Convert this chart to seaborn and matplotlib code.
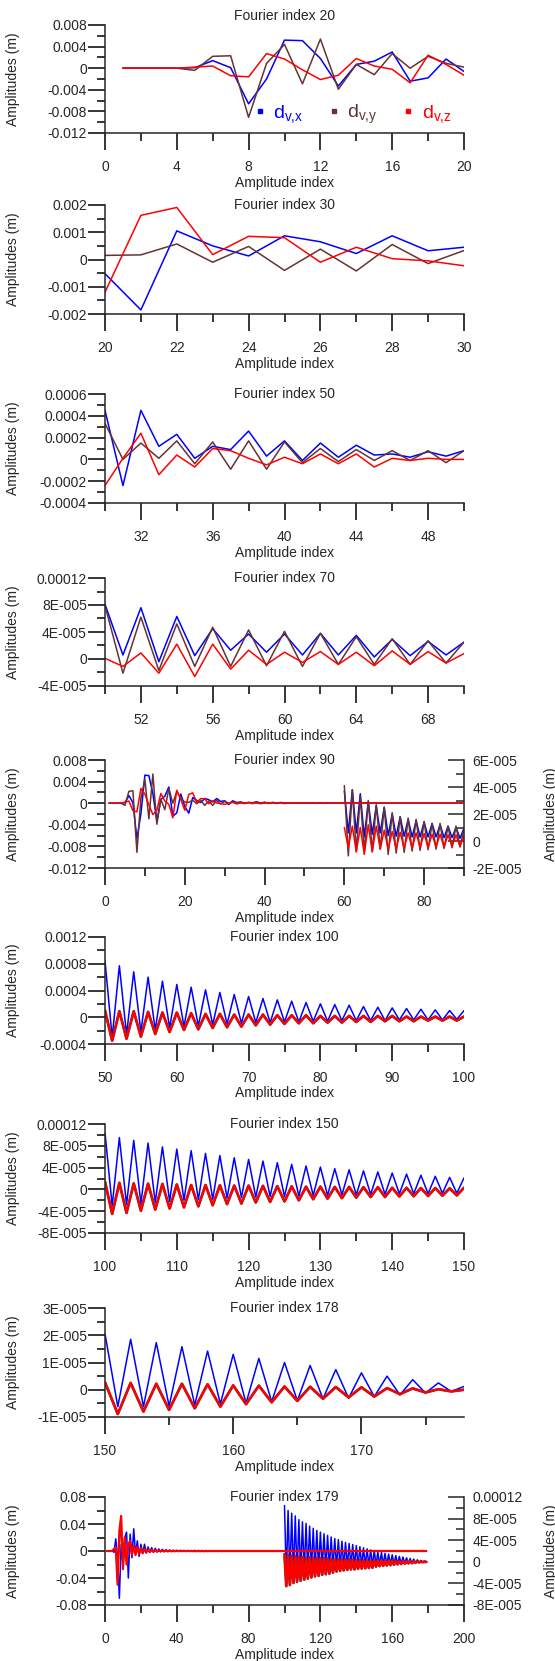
import numpy as np
import matplotlib
matplotlib.use("Agg")
import matplotlib.pyplot as plt
from matplotlib.ticker import MultipleLocator, FuncFormatter
from matplotlib.lines import Line2D
import seaborn as sns

# ---------------- data ----------------
# group A : panels "Fourier index 20 / 30 / 50 / 70 / 90"
p1_idx = np.arange(1, 21)
p1_dvx = [0, 0, 0, 0, 0.0001, 0.0014, 0.0001, -0.0066, -0.002, 0.0052, 0.0051, 0.0018,
          -0.0033, 0.0007, 0.0013, 0.003, -0.0024, -0.0018, 0.0017, -0.0006]
p1_dvy = [0, 0, 0, 0, -0.0004, 0.0022, 0.0023, -0.0091, 0.0009, 0.0044, -0.0029, 0.0054,
          -0.0039, 0.0007, -0.0012, 0.0027, 0.0, 0.0022, 0.0009, 0.0002]
p1_dvz = [0, 0, 0, 0, 0.0002, 0.0004, -0.0014, -0.0016, 0.0027, 0.0017, -0.0003, -0.0021,
          -0.0013, 0.0018, 0.0004, -0.0002, -0.0027, 0.0024, 0.0007, -0.0013]

p2_idx = np.arange(20, 31)
p2_dvx = [-0.00052, -0.00185, 0.00105, 0.0005, 0.00013, 0.00087, 0.00065, 0.00022, 0.00087, 0.00032, 0.00045]
p2_dvy = [0.00015, 0.00017, 0.00057, -0.0001, 0.00048, -0.0004, 0.00038, -0.00042, 0.00055, -0.00015, 0.00033]
p2_dvz = [-0.0012, 0.00162, 0.00191, 0.00018, 0.00085, 0.0008, -0.0001, 0.00045, 0.00003, -0.00005, -0.00023]

p3_idx = np.arange(30, 51)
p3_dvx = [0.00045, -0.00024, 0.00045, 0.00012, 0.00023, 0.00001, 0.00012, 0.00009, 0.00026, 0.00003, 0.00017,
          -0.00001, 0.00015, 0.00002, 0.00013, 0.00004, 0.00005, 0.00002, 0.00007, 0.00003, 0.00008]
p3_dvy = [0.00033, 0.0, 0.00015, 0.00001, 0.00017, -0.00004, 0.00016, -0.00009, 0.00017, -0.00009, 0.00016,
          -0.00003, 0.0001, -0.00002, 0.00009, -0.00001, 0.00008, -0.00001, 0.00008, -0.00003, 0.00008]
p3_dvz = [-0.00024, 0.00001, 0.00024, -0.00014, 0.00004, -0.00007, 0.0001, 0.00008, 0.00001, -0.00005, 0.00002,
          -0.00004, 0.00005, -0.00004, 0.00005, -0.00007, 0.00001, -0.00001, 0.00001, 0.0, 0.0]

# in units of 1e-5 m
p4_idx = np.arange(50, 71)
p4_dvx = [8.1, 0.6, 7.6, -0.4, 6.3, 0.5, 4.5, 1.3, 3.7, 1.0, 3.7, 0.6, 3.8, 0.6, 3.5, 0.3, 2.9, 0.5, 2.6, 0.6, 2.5]
p4_dvy = [7.9, -2.1, 6.2, -1.7, 5.2, -1.1, 4.7, -1.1, 4.3, -1.0, 4.1, -1.1, 3.8, -0.8, 3.3, -0.8, 3.0, -0.8, 2.7, -0.6, 2.5]
p4_dvz = [0.1, -1.1, 0.9, -2.1, 2.2, -2.6, 2.2, -1.5, 1.3, -0.8, 1.0, -0.5, 1.1, -0.8, 1.0, -1.0, 1.2, -0.8, 1.1, -0.6, 0.8]

# amplitude indices 71..90 (1e-5 m)
p5_tail_idx = np.arange(71, 91)
p5_tail_dvx = [0.4, 2.0, 0.35, 1.8, 0.35, 1.6, 0.3, 1.5, 0.3, 1.4, 0.3, 1.3, 0.3, 1.2, 0.25, 1.1, 0.25, 1.0, 0.2, 0.95]
p5_tail_dvy = [-1.0, 2.1, -0.9, 1.8, -0.85, 1.7, -0.75, 1.6, -0.7, 1.45, -0.65, 1.3, -0.6, 1.3, -0.55, 1.1, -0.5, 1.1, -0.45, 0.95]
p5_tail_dvz = [-0.6, 0.7, -0.6, 0.65, -0.55, 0.6, -0.55, 0.6, -0.5, 0.55, -0.5, 0.5, -0.45, 0.5, -0.45, 0.45, -0.4, 0.45, -0.4, 0.35]

# group B : panels "Fourier index 100 / 150 / 178 / 179"
p6_idx = np.arange(50, 101)
p6_dvx = [8.4, -3.0, 7.7, -2.6, 6.8, -2.2, 6.0, -1.9, 5.4, -1.6, 4.9, -1.4, 4.5, -1.3, 4.1, -1.1, 3.7,
          -1.0, 3.4, -0.9, 3.1, -0.8, 2.8, -0.8, 2.6, -0.7, 2.4, -0.7, 2.2, -0.6, 2.0, -0.6, 1.9, -0.5,
          1.8, -0.5, 1.6, -0.5, 1.5, -0.5, 1.4, -0.4, 1.3, -0.4, 1.2, -0.4, 1.1, -0.4, 1.0, -0.3, 1.0]  # 1e-4 m
p6_dvz = [1.0, -3.5, 0.9, -3.2, 0.9, -2.9, 0.8, -2.5, 0.7, -2.2, 0.7, -1.9, 0.6, -1.8, 0.5, -1.6, 0.5,
          -1.5, 0.4, -1.4, 0.4, -1.2, 0.4, -1.1, 0.3, -1.0, 0.3, -0.9, 0.3, -0.9, 0.2, -0.8, 0.2, -0.8,
          0.2, -0.7, 0.2, -0.7, 0.2, -0.6, 0.2, -0.6, 0.1, -0.6, 0.1, -0.5, 0.1, -0.5, 0.1, -0.5, 0.1]  # 1e-4 m

p7_idx = np.arange(100, 151)
p7_dvx = [10.4, -3.0, 9.5, -2.8, 9.0, -2.6, 8.5, -2.4, 7.8, -2.2, 7.4, -2.0, 7.1, -1.9, 6.6, -1.8, 6.2,
          -1.6, 5.8, -1.5, 5.5, -1.4, 5.2, -1.3, 4.9, -1.3, 4.6, -1.2, 4.3, -1.1, 4.1, -1.1, 3.8, -1.0,
          3.6, -1.0, 3.4, -0.9, 3.2, -0.9, 3.0, -0.8, 2.8, -0.8, 2.6, -0.8, 2.4, -0.7, 2.2, -0.7, 2.1]  # 1e-5 m
p7_dvz = [1.4, -4.5, 1.2, -4.3, 1.1, -3.9, 1.05, -3.7, 1.0, -3.5, 0.9, -3.3, 0.8, -3.1, 0.8, -2.9, 0.75,
          -2.7, 0.7, -2.6, 0.7, -2.4, 0.65, -2.3, 0.6, -2.2, 0.55, -2.0, 0.5, -1.8, 0.5, -1.7, 0.45, -1.6,
          0.45, -1.5, 0.4, -1.4, 0.4, -1.4, 0.3, -1.3, 0.3, -1.25, 0.25, -1.2, 0.25, -1.15, 0.2, -1.1, 0.3]  # 1e-5 m

p8_idx = np.arange(150, 179)
p8_dvx = [2.05, -0.62, 1.85, -0.62, 1.73, -0.6, 1.58, -0.56, 1.42, -0.52, 1.3, -0.49, 1.15, -0.44, 1.0,
          -0.4, 0.89, -0.33, 0.74, -0.31, 0.62, -0.25, 0.5, -0.19, 0.37, -0.12, 0.25, -0.06, 0.12]  # 1e-5 m
p8_dvz = [0.27, -0.89, 0.25, -0.8, 0.22, -0.74, 0.22, -0.68, 0.2, -0.62, 0.16, -0.53, 0.15, -0.46, 0.12,
          -0.41, 0.11, -0.33, 0.1, -0.28, 0.09, -0.25, 0.06, -0.16, 0.05, -0.1, 0.02, -0.06, 0.0]  # 1e-5 m
p9_last_dvx = [-0.02]  # index 179, 1e-5 m
p9_last_dvz = [-0.03]

# amplitude indices 1..49 of the "Fourier index 179" run (m)
p9_head_idx = np.arange(1, 50)
p9_head_dvx = [0, 0, 0, 0.0005, -0.002, 0.018, -0.008, -0.07, 0.01, -0.02, 0.02, 0.028, -0.04, 0.025,
               -0.01, 0.033, -0.005, 0.015, -0.008, 0.01, -0.004, 0.01, -0.003, 0.006, -0.002, 0.005,
               -0.002, 0.004, -0.0015, 0.003, -0.001, 0.0025, -0.001, 0.002, -0.0008, 0.0015, -0.0006,
               0.0012, -0.0005, 0.001, -0.0004, 0.0009, -0.0003, 0.0008, -0.0003, 0.0007, -0.0003, 0.0006, -0.0003]
p9_head_dvy = [0, 0, 0, 0, 0.002, 0.004, -0.03, 0.01, 0.04, -0.02, 0.012, -0.015, 0.008, 0.01, -0.006,
               0.006, -0.005, 0.005, -0.004, 0.003, -0.003, 0.002, -0.002, 0.0015, -0.0015, 0.001, -0.001,
               0.001, -0.0008, 0.0008, -0.0007, 0.0006, -0.0006, 0.0005, -0.0005, 0.0004, -0.0004, 0.0003,
               -0.0003, 0.0003, -0.0003, 0.0002, -0.0002, 0.0002, -0.0002, 0.0002, -0.0002, 0.0001, -0.0002]
p9_head_dvz = [0, 0, 0, 0, 0.003, 0.005, -0.05, 0.03, 0.052, -0.027, 0.02, -0.02, 0.01, 0.015, -0.005,
               0.008, -0.006, 0.006, -0.004, 0.004, -0.003, 0.003, -0.002, 0.002, -0.0015, 0.0015, -0.001,
               0.001, -0.0008, 0.0008, -0.0007, 0.0006, -0.0006, 0.0005, -0.0005, 0.0004, -0.0004, 0.0003,
               -0.0003, 0.0003, -0.0003, 0.0002, -0.0002, 0.0002, -0.0002, 0.0002, -0.0002, 0.0001, -0.0002]

titles = ["Fourier index 20", "Fourier index 30", "Fourier index 50", "Fourier index 70",
          "Fourier index 90", "Fourier index 100", "Fourier index 150", "Fourier index 178",
          "Fourier index 179"]
legend_labels = [r"$\mathregular{d_{v{,}x}}$", r"$\mathregular{d_{v{,}y}}$", r"$\mathregular{d_{v{,}z}}$"]

# ---------------- derived series ----------------
E5, E4 = 1e-5, 1e-4
p4_x, p4_y, p4_z = (np.array(a) * E5 for a in (p4_dvx, p4_dvy, p4_dvz))
tail_x, tail_y, tail_z = (np.array(a) * E5 for a in (p5_tail_dvx, p5_tail_dvy, p5_tail_dvz))

# "Fourier index 90": left axis = whole run 1..90, right axis = 60..90 zoomed
p5_idx = np.arange(1, 91)
p5_left = [np.concatenate([a1, a2[1:], a3[1:], a4[1:], a5]) for a1, a2, a3, a4, a5 in
           zip((p1_dvx, p1_dvy, p1_dvz), (p2_dvx, p2_dvy, p2_dvz), (p3_dvx, p3_dvy, p3_dvz),
               (p4_x, p4_y, p4_z), (tail_x, tail_y, tail_z))]
p5r_idx = np.arange(60, 91)
p5_right = [np.concatenate([a4[10:], a5]) for a4, a5 in zip((p4_x, p4_y, p4_z), (tail_x, tail_y, tail_z))]

p6_x, p6_z = np.array(p6_dvx) * E4, np.array(p6_dvz) * E4
p7_x, p7_z = np.array(p7_dvx) * E5, np.array(p7_dvz) * E5
p8_x, p8_z = np.array(p8_dvx) * E5, np.array(p8_dvz) * E5

p9r_idx = np.arange(100, 180)
p9r_x = np.concatenate([p7_x, p8_x[1:], np.array(p9_last_dvx) * E5])
p9r_z = np.concatenate([p7_z, p8_z[1:], np.array(p9_last_dvz) * E5])
p9_idx = np.arange(1, 180)
p9_x = np.concatenate([p9_head_dvx, p6_x, p9r_x[1:]])
p9_y = np.concatenate([p9_head_dvy, p6_z, p9r_z[1:]])
p9_z = np.concatenate([p9_head_dvz, p6_z, p9r_z[1:]])

# ---------------- style ----------------
sns.set_style("ticks")
plt.rcParams['font.family'] = ['Liberation Sans', 'DejaVu Sans']
plt.rcParams['axes.linewidth'] = 1.1
FS = 10
BLUE, BROWN, RED = "#0000ff", "#663333", "#ff0000"
W, H = 555, 1661
AX_L, AX_W = 105, 359


def fmt(v, pos):
    if abs(v) < 1e-12:
        return "0"
    if abs(v) < 1e-4:
        m, e = f"{v:.0E}".split("E")
        return f"{m}E{e[0]}{int(e[1:]):03d}"
    return f"{v:g}"


def make_ax(fig, top, bottom):
    return fig.add_axes([AX_L / W, 1 - bottom / H, AX_W / W, (bottom - top) / H])


def style(ax, xlim, ylim, xmaj, xmin, ymaj, ymin):
    ax.set_xlim(xlim)
    ax.set_ylim(ylim)
    ax.xaxis.set_major_locator(MultipleLocator(xmaj))
    ax.xaxis.set_minor_locator(MultipleLocator(xmin))
    ax.yaxis.set_major_locator(MultipleLocator(ymaj))
    ax.yaxis.set_minor_locator(MultipleLocator(ymin))
    ax.yaxis.set_major_formatter(FuncFormatter(fmt))
    ax.xaxis.set_major_formatter(FuncFormatter(lambda v, p: f"{v:g}"))
    for s in ("top", "right"):
        ax.spines[s].set_visible(False)
    ax.tick_params(which="major", length=12, width=1.1, labelsize=FS, color="black")
    ax.tick_params(which="minor", length=6, width=1.1, color="black")
    ax.tick_params(axis="x", which="major", pad=7.3)
    ax.tick_params(axis="y", which="major", pad=1)
    ax.set_xlabel("Amplitude index", fontsize=FS)
    ax.xaxis.set_label_coords(0.5, -0.395)
    ax.xaxis.label.set_va("top")
    ax.set_ylabel("Amplitudes (m)", fontsize=FS)
    ax.yaxis.set_label_coords(-0.237, 0.5)


def right_axis(ax, ylim, ymaj, ymin):
    ax2 = ax.twinx()
    ax2.set_ylim(ylim)
    ax2.yaxis.set_major_locator(MultipleLocator(ymaj))
    ax2.yaxis.set_minor_locator(MultipleLocator(ymin))
    ax2.yaxis.set_major_formatter(FuncFormatter(fmt))
    for s in ("top", "left", "bottom"):
        ax2.spines[s].set_visible(False)
    ax2.tick_params(which="major", direction="in", length=11.5, width=1.1, labelsize=FS, pad=6)
    ax2.tick_params(which="minor", direction="in", length=6, width=1.1)
    ax2.set_ylabel("Amplitudes (m)", fontsize=FS)
    ax2.yaxis.set_label_coords(1.222, 0.5)
    # left axis curves are drawn above the zoomed ones
    ax.set_zorder(ax2.get_zorder() + 1)
    ax.patch.set_visible(False)
    return ax2


def lines(ax, x, ys, lws=(1.1, 1.1, 1.1)):
    for y, c, lw in zip(ys, (BLUE, BROWN, RED), lws):
        sns.lineplot(x=x, y=y, ax=ax, color=c, lw=lw, estimator=None, sort=False)


fig = plt.figure(figsize=(W / 100, H / 100), dpi=100)

rects = [(25, 133), (205, 314), (394, 503), (578, 686), (760, 868),
         (937, 1044), (1124, 1233), (1308, 1417), (1497, 1605)]
axes = [make_ax(fig, t, b) for t, b in rects]

# Fourier index 20
ax = axes[0]
lines(ax, p1_idx, (p1_dvx, p1_dvy, p1_dvz))
style(ax, (0, 20), (-0.012, 0.008), 4, 2, 0.004, 0.002)
handles = [Line2D([], [], color=c, marker="s", ms=3, ls="") for c in (BLUE, BROWN, RED)]
ax.legend(handles, legend_labels, loc="center left", bbox_to_anchor=(0.42, 0.17), ncol=3,
          frameon=False, fontsize=14, handlelength=0.4, handletextpad=0.5, columnspacing=1.35,
          borderpad=0, borderaxespad=0, labelcolor="markerfacecolor")

# Fourier index 30
ax = axes[1]
lines(ax, p2_idx, (p2_dvx, p2_dvy, p2_dvz))
style(ax, (20, 30), (-0.002, 0.002), 2, 1, 0.001, 0.0005)

# Fourier index 50
ax = axes[2]
lines(ax, p3_idx, (p3_dvx, p3_dvy, p3_dvz))
style(ax, (30, 50), (-0.0004, 0.0006), 4, 2, 0.0002, 0.0001)

# Fourier index 70
ax = axes[3]
lines(ax, p4_idx, (p4_x, p4_y, p4_z))
style(ax, (50, 70), (-4e-5, 12e-5), 4, 2, 4e-5, 2e-5)

# Fourier index 90
ax = axes[4]
ax2 = right_axis(ax, (-2e-5, 6e-5), 2e-5, 1e-5)
lines(ax2, p5r_idx, p5_right)
lines(ax, p5_idx, p5_left)
style(ax, (0, 90), (-0.012, 0.008), 20, 10, 0.004, 0.002)

# Fourier index 100
ax = axes[5]
lines(ax, p6_idx, (p6_x, p6_z, p6_z), lws=(1.1, 2.0, 1.6))
style(ax, (50, 100), (-0.0004, 0.0012), 10, 5, 0.0004, 0.0002)

# Fourier index 150
ax = axes[6]
lines(ax, p7_idx, (p7_x, p7_z, p7_z), lws=(1.1, 2.0, 1.6))
style(ax, (100, 150), (-8e-5, 12e-5), 10, 5, 4e-5, 2e-5)

# Fourier index 178
ax = axes[7]
lines(ax, p8_idx, (p8_x, p8_z, p8_z), lws=(1.1, 2.0, 1.6))
style(ax, (150, 178), (-1e-5, 3e-5), 10, 5, 1e-5, 0.5e-5)

# Fourier index 179
ax = axes[8]
ax2 = right_axis(ax, (-8e-5, 12e-5), 4e-5, 2e-5)
lines(ax2, p9r_idx, (p9r_x, p9r_z, p9r_z), lws=(1.1, 2.0, 1.6))
lines(ax, p9_idx, (p9_x, p9_y, p9_z), lws=(1.1, 1.1, 1.6))
style(ax, (0, 200), (-0.08, 0.08), 40, 20, 0.04, 0.02)

for i, (ax, t) in enumerate(zip(axes, titles)):
    ax.text(0.5, 1.083 if i == 0 else 1.0, t, transform=ax.transAxes, ha="center",
            va="center", fontsize=FS)

fig.savefig("out.png", dpi=100, facecolor="white")
